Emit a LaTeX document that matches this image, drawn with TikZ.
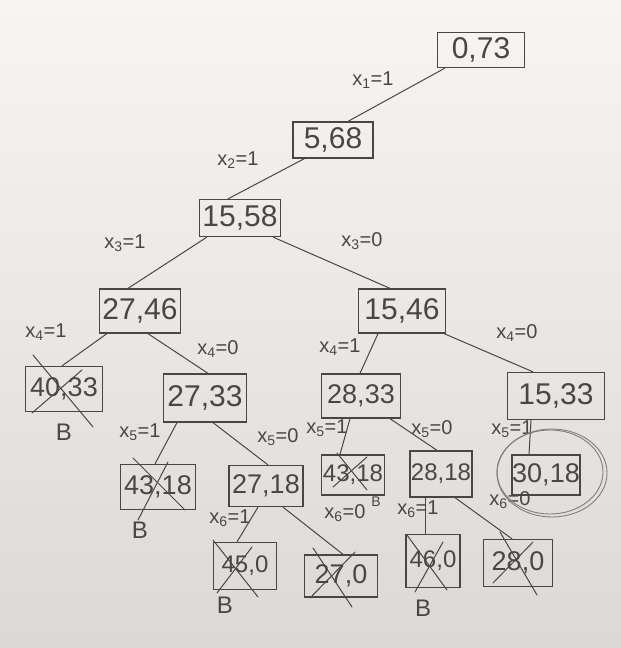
\documentclass[tikz,border=0pt]{standalone}
\usepackage{fontspec}
\setmainfont{Liberation Sans}
\definecolor{ink}{HTML}{4A4644}
\definecolor{boardtop}{HTML}{F7F5F3}
\definecolor{boardbot}{HTML}{DCD8D5}
\newcommand{\xl}[2]{x\textsubscript{#1}=#2}
\begin{document}
\begin{tikzpicture}[x=1pt,y=-1pt,
  box/.style={draw=ink, line width=1.3pt, inner sep=0pt, text=ink,
    font=\fontsize{30}{30}\selectfont},
  midbox/.style={box, font=\fontsize{27}{27}\selectfont},
  smallbox/.style={box, font=\fontsize{24}{24}\selectfont},
  lab/.style={text=ink, inner sep=0pt, font=\fontsize{20}{20}\selectfont},
  bmark/.style={text=ink, inner sep=0pt, font=\fontsize{24}{24}\selectfont},
  edge/.style={draw=ink, line width=1pt},
  xout/.style={draw=ink, line width=1pt, line cap=round},
  ring/.style={draw=ink!70, line width=0.9pt}]
\useasboundingbox (0,0) rectangle (621,648);
\shade[top color=boardtop, bottom color=boardbot] (0,0) rectangle (621,648);

% nodes
\node[box, minimum width=87pt, minimum height=35pt] (n0) at (481,50) {0,73};
\node[box, minimum width=80pt, minimum height=36pt] (n1) at (333,140) {5,68};
\node[box, minimum width=81pt, minimum height=37pt] (n2) at (240,218) {15,58};
\node[box, minimum width=81pt, minimum height=44pt] (n3) at (140,311) {27,46};
\node[box, minimum width=87pt, minimum height=44pt] (n4) at (402,311) {15,46};
\node[midbox, minimum width=77pt, minimum height=45pt] (n5) at (64,389) {40,33};
\node[box, minimum width=83pt, minimum height=48pt] (n6) at (205,398) {27,33};
\node[midbox, minimum width=79pt, minimum height=44pt] (n7) at (361,396) {28,33};
\node[box, minimum width=97pt, minimum height=47pt] (n8) at (556,396) {15,33};
\node[midbox, minimum width=75pt, minimum height=45pt] (n9) at (158,487) {43,18};
\node[midbox, minimum width=74pt, minimum height=41pt] (n10) at (266,486) {27,18};
\node[smallbox, minimum width=63pt, minimum height=40pt] (n11) at (353,475) {43,18};
\node[smallbox, minimum width=62pt, minimum height=46pt] (n12) at (441,474) {28,18};
\node[midbox, minimum width=68pt, minimum height=40pt] (n13) at (546,475) {30,18};
\node[smallbox, minimum width=63pt, minimum height=47pt] (n14) at (245,566) {45,0};
\node[midbox, minimum width=73pt, minimum height=42pt] (n15) at (341,576) {27,0};
\node[smallbox, minimum width=54pt, minimum height=53pt] (n16) at (433,561) {46,0};
\node[midbox, minimum width=69pt, minimum height=47pt] (n17) at (518,563) {28,0};

% edges
\draw[edge] ([xshift=8pt]n0.south west) -- ([xshift=15pt]n1.north);
\draw[edge] ([xshift=12pt]n1.south west) -- ([xshift=-12pt]n2.north);
\draw[edge] ([xshift=8pt]n2.south west) -- ([xshift=-12pt]n3.north);
\draw[edge] ([xshift=-8pt]n2.south east) -- ([xshift=-12pt]n4.north);
\draw[edge] ([xshift=8pt]n3.south west) -- ([xshift=-2pt]n5.north);
\draw[edge] ([xshift=8pt]n3.south) -- ([xshift=3pt]n6.north);
\draw[edge] ([xshift=-24pt]n4.south) -- ([xshift=-1pt]n7.north);
\draw[edge] ([xshift=-2pt]n4.south east) -- ([xshift=-23pt]n8.north);
\draw[edge] ([xshift=-28pt]n6.south) -- ([xshift=-3pt]n9.north);
\draw[edge] ([xshift=8pt]n6.south) -- ([xshift=2pt]n10.north);
\draw[edge] ([xshift=-11pt]n7.south) -- ([xshift=-13pt]n11.north);
\draw[edge] ([xshift=29pt]n7.south) -- ([xshift=-4pt]n12.north);
\draw[edge] ([xshift=-25pt]n8.south) -- ([xshift=-17pt]n13.north);
\draw[edge] ([xshift=-8pt]n10.south) -- ([xshift=-8pt]n14.north);
\draw[edge] ([xshift=17pt]n10.south) -- ([xshift=2pt]n15.north);
\draw[edge] ([xshift=-16pt]n12.south) -- ([xshift=-8pt]n16.north);
\draw[edge] ([xshift=14pt]n12.south) -- ([xshift=-6pt]n17.north);

% edge labels
\node[lab] (l1) at (373,80) {\xl{1}{1}};
\node[lab] (l2) at (238,160) {\xl{2}{1}};
\node[lab] (l3) at (125,243) {\xl{3}{1}};
\node[lab] (l4) at (362,241) {\xl{3}{0}};
\node[lab] (l5) at (46,332) {\xl{4}{1}};
\node[lab] (l6) at (218,349) {\xl{4}{0}};
\node[lab] (l7) at (340,347) {\xl{4}{1}};
\node[lab] (l8) at (517,333) {\xl{4}{0}};
\node[lab] (l9) at (140,432) {\xl{5}{1}};
\node[lab] (l10) at (278,437) {\xl{5}{0}};
\node[lab] (l11) at (327,428) {\xl{5}{1}};
\node[lab] (l12) at (432,429) {\xl{5}{0}};
\node[lab] (l13) at (512,429) {\xl{5}{1}};
\node[lab] (l14) at (230,518) {\xl{6}{1}};
\node[lab] (l15) at (345,513) {\xl{6}{0}};
\node[lab] (l16) at (418,509) {\xl{6}{1}};
\node[lab] (l17) at (510,500) {\xl{6}{0}};

% B marks
\node[bmark] (b1) at (64,432) {B};
\node[bmark] (b2) at (140,530) {B};
\node[bmark] (b3) at (225,605) {B};
\node[bmark] (b4) at (423,608) {B};
\node[bmark, font=\fontsize{14}{14}\selectfont] (b5) at (376,502) {B};

% crossing-out strokes
\draw[xout] (33,355) -- (93,427);  \draw[xout] (32,413) -- (82,370);
\draw[xout] (133,458) -- (185,510); \draw[xout] (168,462) -- (138,520);
\draw[xout] (337,453) -- (367,490); \draw[xout] (367,457) -- (333,487);
\draw[xout] (213,540) -- (258,597); \draw[xout] (252,547) -- (217,593);
\draw[xout] (313,548) -- (352,607); \draw[xout] (355,552) -- (310,598);
\draw[xout] (407,535) -- (447,590); \draw[xout] (443,542) -- (415,592);
\draw[xout] (500,532) -- (537,595); \draw[xout] (533,542) -- (493,583);

% ring around the best solution
\draw[ring] ([xshift=6pt,yshift=2pt]n13.center) ellipse [x radius=55pt, y radius=44pt];
\draw[ring] ([xshift=4pt,yshift=3pt]n13.center) ellipse [x radius=53pt, y radius=42pt];
\end{tikzpicture}
\end{document}
